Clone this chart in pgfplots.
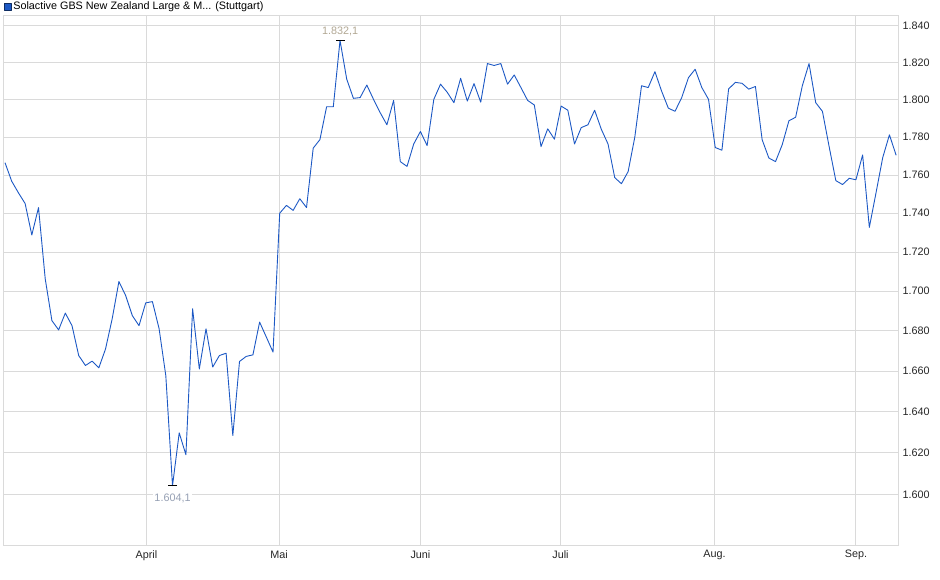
\documentclass[border=0pt]{standalone}
\usepackage{pgfplots}
\usepackage{pgfplotstable}
\usepackage{fontspec}
\setmainfont{Liberation Sans}
\pgfplotsset{compat=1.18}

\definecolor{kurs}{RGB}{28,88,196}
\definecolor{rahmen}{RGB}{218,218,218}
\definecolor{hoch}{RGB}{178,168,148}
\definecolor{tief}{RGB}{150,160,180}

% Schlusskurse je Handelstag (Index 0 = Anfang Maerz)
\pgfplotstableread{
tag kurs
0 1.7665
1 1.7566
2 1.7506
3 1.7451
4 1.7287
5 1.7429
6 1.7063
7 1.6852
8 1.6805
9 1.6889
10 1.6827
11 1.6677
12 1.6627
13 1.6649
14 1.6615
15 1.6710
16 1.6860
17 1.7049
18 1.6978
19 1.6877
20 1.6827
21 1.6941
22 1.6948
23 1.6810
24 1.6577
25 1.6041
26 1.6296
27 1.6190
28 1.6911
29 1.6610
30 1.6810
31 1.6619
32 1.6677
33 1.6689
34 1.6284
35 1.6647
36 1.6672
37 1.6680
38 1.6844
39 1.6769
40 1.6694
41 1.7400
42 1.7441
43 1.7415
44 1.7475
45 1.7429
46 1.7742
47 1.7786
48 1.7962
49 1.7962
50 1.8321
51 1.8110
52 1.8007
53 1.8011
54 1.8079
55 1.8002
56 1.7930
57 1.7866
58 1.7996
59 1.7671
60 1.7644
61 1.7764
62 1.7830
63 1.7754
64 1.8002
65 1.8083
66 1.8038
67 1.7984
68 1.8115
69 1.7992
70 1.8087
71 1.7987
72 1.8195
73 1.8185
74 1.8195
75 1.8083
76 1.8133
77 1.8065
78 1.7996
79 1.7971
80 1.7750
81 1.7843
82 1.7789
83 1.7965
84 1.7942
85 1.7763
86 1.7850
87 1.7866
88 1.7942
89 1.7840
90 1.7764
91 1.7586
92 1.7555
93 1.7618
94 1.7800
95 1.8074
96 1.8065
97 1.8151
98 1.8046
99 1.7955
100 1.7937
101 1.8011
102 1.8119
103 1.8164
104 1.8065
105 1.8002
106 1.7745
107 1.7729
108 1.8058
109 1.8092
110 1.8088
111 1.8056
112 1.8070
113 1.7786
114 1.7689
115 1.7669
116 1.7759
117 1.7888
118 1.7906
119 1.8074
120 1.8195
121 1.7984
122 1.7938
123 1.7750
124 1.7571
125 1.7549
126 1.7583
127 1.7574
128 1.7706
129 1.7327
130 1.7506
131 1.7690
132 1.7812
133 1.7704
}\kurse

\begin{document}
\begin{tikzpicture}
\useasboundingbox (0,0) rectangle (940pt,579pt);
\begin{axis}[
    at={(3pt,33.3pt)}, anchor=south west,
    scale only axis,
    width=895pt, height=529.7pt,
    xmin=-0.3, xmax=133.28,
    ymode=log,
    ymin=1.5757, ymax=1.8455,
    xtick={21.1,40.9,62.0,82.9,105.9,127.0},
    xticklabels={April,Mai,Juni,Juli,Aug.,Sep.},
    ytick={1.60,1.62,1.64,1.66,1.68,1.70,1.72,1.74,1.76,1.78,1.80,1.82,1.84},
    yticklabels={1.600,1.620,1.640,1.660,1.680,1.700,1.720,1.740,1.760,1.780,1.800,1.820,1.840},
    yticklabel pos=right,
    major tick length=0pt,
    grid=major,
    major grid style={rahmen, line width=1pt},
    axis line style={rahmen, line width=1pt},
    tick label style={font=\fontsize{10.8}{13}\selectfont, text=black!85},
    xticklabel style={yshift=-1pt},
    yticklabel style={xshift=1pt},
    legend style={at={(0,1)}, anchor=south west, yshift=2.5pt, xshift=0.5pt, draw=none, fill=none,
        inner sep=0pt, font=\fontsize{10.8}{13}\selectfont},
    legend cell align=left,
    legend image code/.code={\filldraw[fill=kurs, draw=kurs!50!black, line width=0.6pt] (0pt,-3.5pt) rectangle (7pt,3.5pt);},
]
\addplot[kurs, line width=0.9pt, line join=round] table[x=tag, y=kurs] {\kurse};
\addlegendentry{Solactive GBS New Zealand Large \& M... (Stuttgart)}

\addplot[black, only marks, mark=-, mark size=4.5pt, mark options={line width=0.9pt},
    nodes near coords={{1.832,1}},
    every node near coord/.style={anchor=south, yshift=3pt, fill=white, inner sep=1pt,
        text=hoch, font=\fontsize{10.8}{13}\selectfont},
    forget plot] coordinates {(50,1.8321)};
\addplot[black, only marks, mark=-, mark size=4.5pt, mark options={line width=0.9pt},
    nodes near coords={{1.604,1}},
    every node near coord/.style={anchor=north, yshift=-7pt, fill=white, inner sep=1pt,
        text=tief, font=\fontsize{10.8}{13}\selectfont},
    forget plot] coordinates {(25,1.6041)};
\end{axis}
\end{tikzpicture}
\end{document}
